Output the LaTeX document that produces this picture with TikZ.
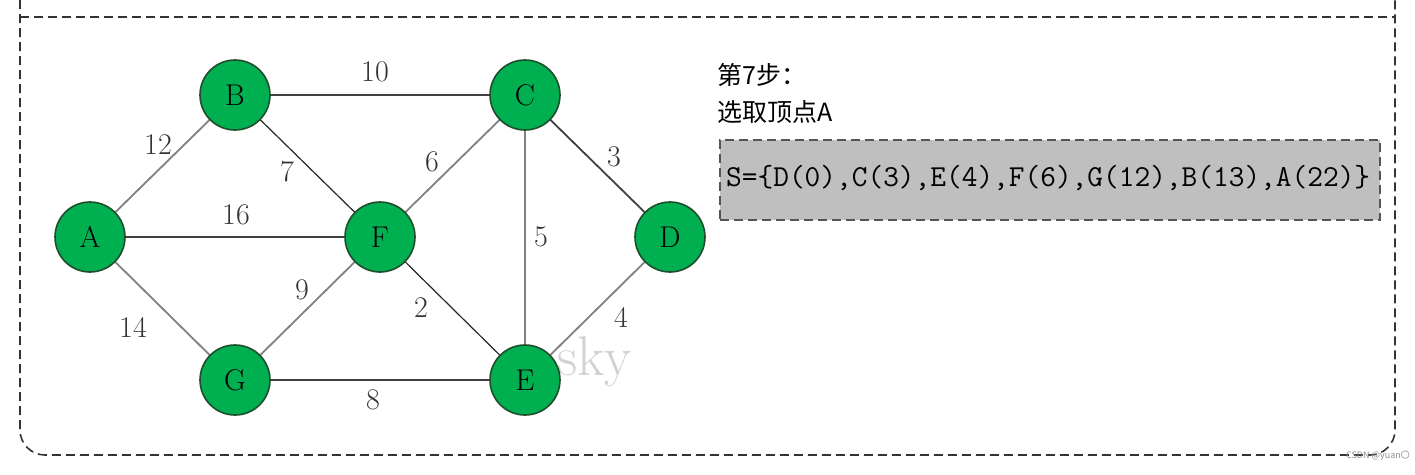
\documentclass[tikz,border=0pt]{standalone}
\usepackage{fontspec}
\newfontfamily\cjk{Noto Sans CJK SC}
\definecolor{ngreen}{HTML}{00B050}
\definecolor{nborder}{HTML}{1E4D2B}
\definecolor{framec}{HTML}{333333}
\definecolor{boxfill}{HTML}{BFBFBF}
\definecolor{boxline}{HTML}{555555}
\begin{document}
\begin{tikzpicture}[x=1pt,y=-1pt,
  vert/.style={circle,draw=nborder,line width=1.6pt,fill=ngreen,minimum size=70pt,inner sep=0pt,font=\fontsize{30}{30}\selectfont},
  wlab/.style={font=\fontsize{30}{30}\selectfont,text=black!80,inner sep=0pt},
  edk/.style={line width=1.8pt,draw=black!75},
  edg/.style={line width=1.8pt,draw=black!50},
  edt/.style={line width=1.2pt,draw=black!85},
  framedash/.style={line width=1.6pt,draw=framec,dash pattern=on 9pt off 5pt}
]
\useasboundingbox (0,0) rectangle (1415,474);
% frame
\draw[framedash,rounded corners=25pt] (20,0) -- (20,455) -- (1395,455) -- (1395,0);
\draw[framedash] (20,17) -- (1395,17);
% watermark
\node[anchor=base west,font=\fontsize{56}{56}\selectfont,text=black!18,inner sep=0pt] (wm) at (557,375) {sky};
% vertices coordinates
\coordinate (pA) at (90,237);
\coordinate (pB) at (235,95);
\coordinate (pC) at (525,95);
\coordinate (pD) at (670,237);
\coordinate (pF) at (380,237);
\coordinate (pG) at (235,380);
\coordinate (pE) at (525,380);
% edges
\draw[edg] (pA) -- (pB);
\draw[edk] (pB) -- (pC);
\draw[edt] (pB) -- (pF);
\draw[edk] (pA) -- (pF);
\draw[edg] (pA) -- (pG);
\draw[edg] (pG) -- (pF);
\draw[edg] (pF) -- (pC);
\draw[edt] (pF) -- (pE);
\draw[edg] (pC) -- (pE);
\draw[edk] (pC) -- (pD);
\draw[edg] (pD) -- (pE);
\draw[edk] (pG) -- (pE);
% nodes
\node[vert] (A) at (pA) {A};
\node[vert] (B) at (pB) {B};
\node[vert] (C) at (pC) {C};
\node[vert] (D) at (pD) {D};
\node[vert] (F) at (pF) {F};
\node[vert] (G) at (pG) {G};
\node[vert] (E) at (pE) {E};
% weights
\node[wlab] (w10) at (375,72) {10};
\node[wlab] (w12) at (158,145) {12};
\node[wlab] (w7) at (287,172) {7};
\node[wlab] (w16) at (236,215) {16};
\node[wlab] (w6) at (432,162) {6};
\node[wlab] (w3) at (614,157) {3};
\node[wlab] (w5) at (541,237) {5};
\node[wlab] (w9) at (302,290) {9};
\node[wlab] (w14) at (133,327) {14};
\node[wlab] (w2) at (421,308) {2};
\node[wlab] (w4) at (621,317) {4};
\node[wlab] (w8) at (373,400) {8};
% text on right
\node[anchor=west,inner sep=0pt,font=\cjk\fontsize{25}{25}\selectfont] (t1) at (717,75) {第7步：};
\node[anchor=west,inner sep=0pt,font=\cjk\fontsize{25}{25}\selectfont] (t2) at (717,112) {选取顶点A};
\node[draw=boxline,fill=boxfill,line width=1.6pt,dash pattern=on 9pt off 5pt,minimum width=660pt,minimum height=80pt,inner sep=0pt] (S) at (1050,180) {};
\node[anchor=west,inner sep=0pt,font=\ttfamily\fontsize{30.5}{30}\selectfont] (St) at (726,178) {S=\{D(0),C(3),E(4),F(6),G(12),B(13),A(22)\}};
\node[anchor=east,inner sep=0pt,text=black!45,font=\cjk\fontsize{9}{9}\selectfont] (csdn) at (1410,456) {CSDN @yuan〇};
\end{tikzpicture}
\end{document}
